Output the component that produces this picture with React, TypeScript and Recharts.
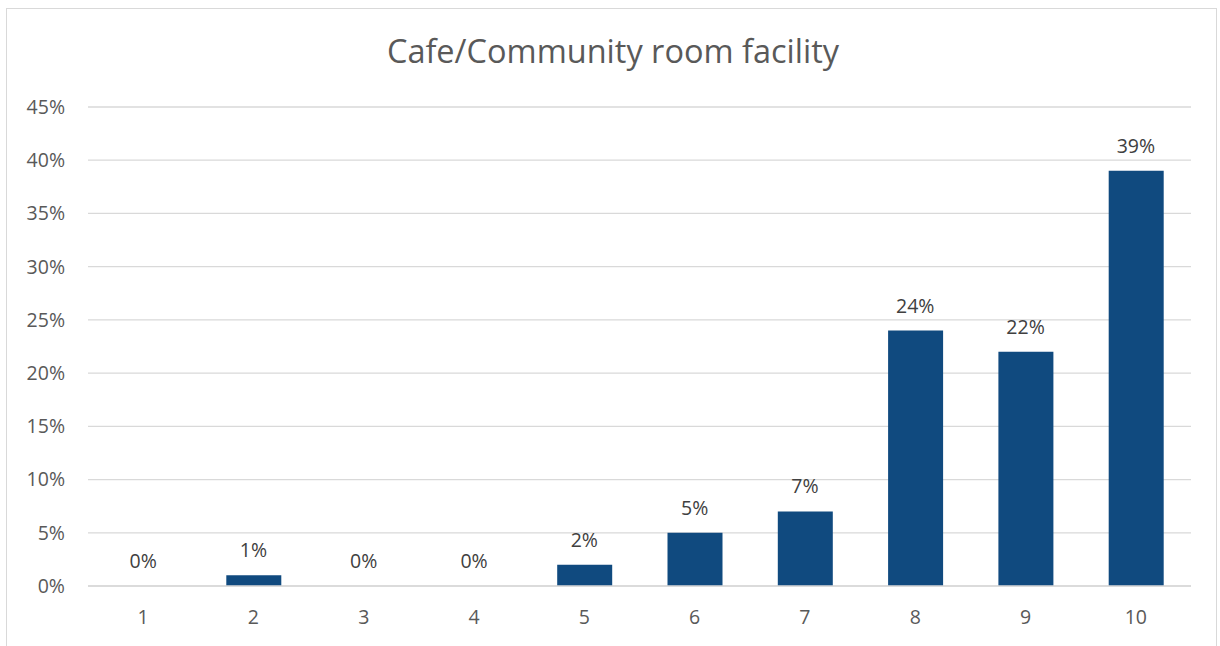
import React from "react";
import { ComposedChart, Bar, Line, XAxis, YAxis, CartesianGrid, LabelList } from "recharts";

const categories = ["1", "2", "3", "4", "5", "6", "7", "8", "9", "10"];
const values = [0, 1, 0, 0, 2, 5, 7, 24, 22, 39];
const yTicks = [0, 5, 10, 15, 20, 25, 30, 35, 40, 45];
const title = "Cafe/Community room facility";

const data = categories.map((c, i) => ({ name: c, value: values[i] }));

const FONT = "'Open Sans', sans-serif";
const GRAY = "#595959";

const renderLabel = (props: any) => {
  const { x, y, value } = props;
  return (
    <text
      x={Number(x)}
      y={Number(y) - 18}
      textAnchor="middle"
      fill="#404040"
      fontSize={19.5}
      fontFamily={FONT}
    >
      {`${value}%`}
    </text>
  );
};

export default function App() {
  return (
    <div style={{ position: "absolute", left: 0, top: 0, width: 1220, height: 646, background: "#fff", overflow: "hidden", fontFamily: FONT }}>
      <div style={{ position: "absolute", left: 6, top: 8, width: 1211, height: 660, border: "1px solid #D9D9D9", boxSizing: "border-box" }} />
      <div style={{ position: "absolute", left: 0, top: 28, width: 1226, textAlign: "center", fontSize: 32.5, color: GRAY, lineHeight: "46px" }}>{title}</div>
      <div style={{ position: "absolute", left: 0, top: 0 }}>
        <ComposedChart width={1220} height={646} data={data} margin={{ top: 107, right: 29, bottom: 0, left: 0 }} barCategoryGap={0}>
          <CartesianGrid vertical={false} stroke="#D9D9D9" strokeWidth={1.3} />
          <XAxis
            dataKey="name"
            height={60}
            tickLine={false}
            tickSize={0}
            tickMargin={24}
            axisLine={{ stroke: "#D9D9D9", strokeWidth: 1.3 }}
            tick={{ fill: GRAY, fontSize: 19.5, fontFamily: FONT }}
          />
          <YAxis
            width={88}
            domain={[0, 45]}
            ticks={yTicks}
            interval={0}
            axisLine={false}
            tickLine={false}
            tickSize={0}
            tickMargin={23}
            tickFormatter={(v: number) => `${v}%`}
            tick={{ fill: GRAY, fontSize: 19.5, fontFamily: FONT }}
          />
          <Bar dataKey="value" fill="#104A7F" barSize={55} isAnimationActive={false} />
          <Line dataKey="value" stroke="none" dot={false} activeDot={false} isAnimationActive={false} legendType="none">
            <LabelList dataKey="value" content={renderLabel} />
          </Line>
        </ComposedChart>
      </div>
    </div>
  );
}
